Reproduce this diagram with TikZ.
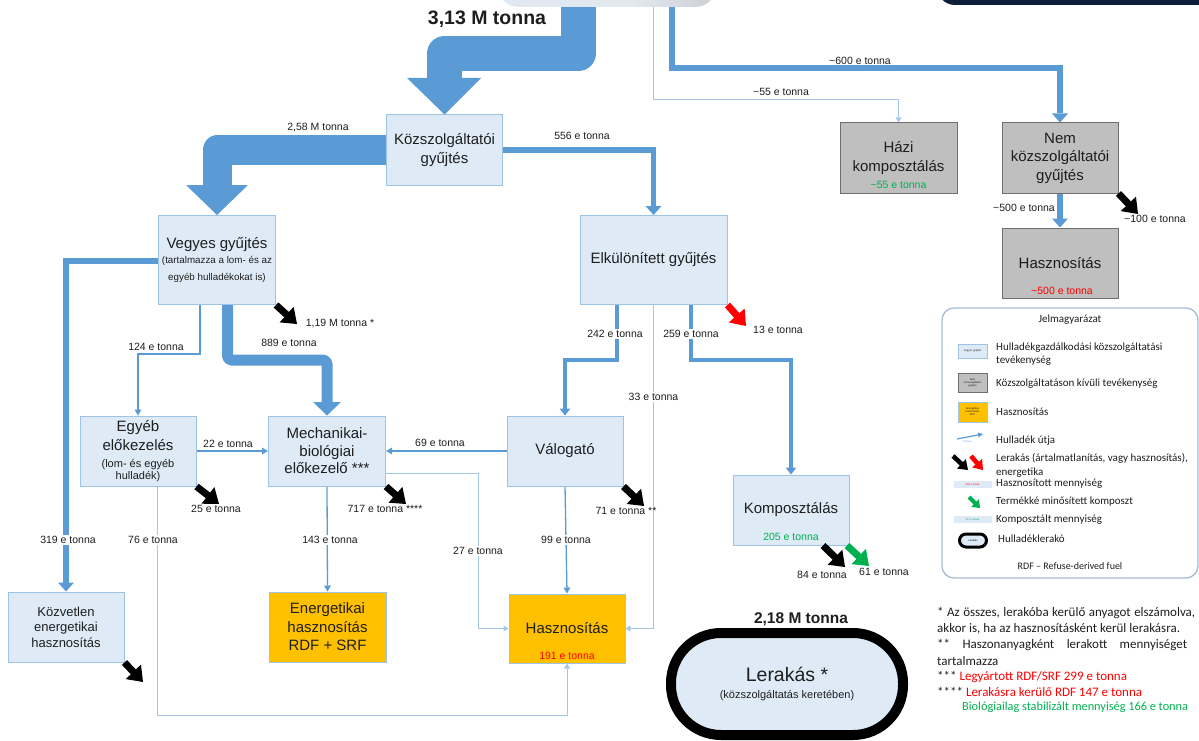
\documentclass[tikz,border=0pt]{standalone}
\usepackage{fontspec}
\setmainfont{Liberation Sans}
\newfontfamily\calibri{Carlito}
\usetikzlibrary{arrows.meta,calc}
\pgfdeclarelayer{bg}
\pgfsetlayers{bg,main}
\definecolor{bl}{HTML}{5B9BD5}
\definecolor{bll}{HTML}{A4C6E8}
\definecolor{boxf}{HTML}{DEEBF7}
\definecolor{boxd}{HTML}{9DC3E6}
\definecolor{grayf}{HTML}{BFBFBF}
\definecolor{grayd}{HTML}{6E6E6E}
\definecolor{orng}{HTML}{FFC000}
\definecolor{grn}{HTML}{00B050}
\definecolor{navy}{HTML}{0C1E3A}
\definecolor{legb}{HTML}{A7BBD3}
\definecolor{txt}{HTML}{1E1E1E}
\definecolor{topl}{HTML}{DCE6F2}
\definecolor{topm}{HTML}{E4E9F0}
\definecolor{topn}{HTML}{C6C9CD}
\definecolor{topg}{HTML}{8E8E8E}
\pgfdeclarehorizontalshading{topsh}{100bp}{color(0bp)=(topl); color(55bp)=(topm); color(80bp)=(topn); color(100bp)=(topg)}
\newcommand{\mainf}{\fontsize{15}{18.5}\selectfont}
\newcommand{\subf}{\fontsize{11}{13}\selectfont}
\newcommand{\kozvf}{\fontsize{13}{15.5}\selectfont}
\newcommand{\lblf}{\fontsize{10.5}{12}\selectfont}
\newcommand{\legf}{\calibri\fontsize{11}{13.2}\selectfont}
\newcommand{\tinyf}{\fontsize{2.6}{3}\selectfont}
\newcommand{\notef}{\calibri\fontsize{13}{15.7}\selectfont}
% block arrow: color, start, end, id, shaft half width, head half width, head length
\newcommand{\blkarr}[7]{%
  \coordinate (#4) at ($(#3)!#7!(#2)$);
  \fill[#1] ($(#2)!#5!90:(#3)$) -- ($(#4)!#5!90:(#3)$) -- ($(#4)!#6!90:(#3)$) -- (#3)
     -- ($(#4)!#6!-90:(#3)$) -- ($(#4)!#5!-90:(#3)$) -- ($(#2)!#5!-90:(#3)$) -- cycle;}
\tikzset{
  pbox/.style={draw=boxd, fill=boxf, line width=1pt, minimum width=116pt, minimum height=70pt,
    inner sep=0pt, align=center, font=\mainf, text=txt},
  gbox/.style={pbox, draw=grayd, fill=grayf},
  obox/.style={pbox, fill=orng},
  lbl/.style={font=\lblf, inner sep=1pt, text=txt},
  lblw/.style={lbl, fill=white},
  legtxt/.style={anchor=west, align=left, font=\legf, inner sep=0pt, text=txt},
  notetxt/.style={anchor=west, align=left, font=\notef, inner sep=0pt, text=txt},
  flowA/.style={draw=bl, line width=5.5pt, -{Triangle[length=9pt,width=16pt,line width=0pt]}},
  flowB/.style={draw=bl, line width=3.5pt, -{Triangle[length=7pt,width=11pt,line width=0pt]}},
  flowC/.style={draw=bl, line width=1.3pt, -{Triangle[length=6pt,width=7pt,line width=0pt]}},
  flowD/.style={draw=bll, line width=1pt, -{Triangle[length=5pt,width=6pt,line width=0pt]}},
  band/.style={draw=bl, line join=round}
}
\begin{document}
\begin{tikzpicture}[x=1pt,y=-1pt]
\useasboundingbox (0,0) rectangle (1199,741);

% top elements (cut off by the page edge)
\node[shade, shading=topsh, rounded corners=22pt, minimum width=220pt, minimum height=68pt, inner sep=0pt] (top) at (607,-27) {};
\fill[navy, rounded corners=18pt] (937,-40) -- (937,5) -- (1215,5) -- (1215,-40) -- cycle;
\node[font=\bfseries\fontsize{19.5}{22}\selectfont, text=txt, inner sep=0pt] (t313) at (487,19) {3,13 M tonna};

% boxes
\node[pbox] (kozsz) at (444.5,150) {Közszolgáltatói\\gyűjtés};
\node[pbox, minimum width=117pt, minimum height=89pt] (vegyes) at (217,260)
  {Vegyes gyűjtés\\[-3.5pt]{\fontsize{9.8}{12}\selectfont (tartalmazza a lom- és az}\\[-1.5pt]{\fontsize{9.8}{12}\selectfont egyéb hulladékokat is)}};
\node[pbox, minimum width=147pt, minimum height=89pt] (elk) at (653.5,260) {Elkülönített gyűjtés};
\node[gbox, minimum width=117pt] (hazi) at (898.5,158) {Házi\\komposztálás};
\node[gbox] (nem) at (1060,158) {Nem\\közszolgáltatói\\gyűjtés};
\node[gbox] (hasznG) at (1060,263) {Hasznosítás};
\node[pbox] (egyeb) at (138,451) {Egyéb\\előkezelés\\[-1.5pt]{\subf (lom- és egyéb}\\[-6.5pt]{\subf hulladék)}};
\node[pbox, minimum width=117pt] (mech) at (327,451) {Mechanikai-\\[-1pt]biológiai\\[-1pt]előkezelő ***};
\node[pbox] (valog) at (565,451) {Válogató};
\node[pbox] (komp) at (791,510) {Komposztálás};
\node[pbox, font=\kozvf] (kozv) at (66,627) {Közvetlen\\energetikai\\hasznosítás};
\node[obox, minimum width=117pt] (energ) at (327.5,627) {Energetikai\\hasznosítás\\RDF + SRF};
\node[obox, minimum height=69pt] (hasznO) at (567,628.5) {Hasznosítás};
\node[draw=black, line width=10pt, fill=boxf, rounded corners=50pt, minimum width=232pt, minimum height=102pt,
  inner sep=0pt, align=center, font=\fontsize{11}{17}\selectfont, text=txt] (lerak) at (787,684)
  {{\fontsize{19.5}{22}\selectfont Lerakás *}\\(közszolgáltatás keretében)};
\node[font=\bfseries\fontsize{15.5}{18}\selectfont, text=txt, inner sep=0pt] (t218) at (801,619) {2,18 M tonna};

% amounts inside boxes
\node[lbl, text=grn] (hazi55) at (898.5,185) {\textasciitilde 55 e tonna};
\node[lbl, text=red] (hg500) at (1062,291) {\textasciitilde 500 e tonna};
\node[lbl, text=red] (ho191) at (567,656) {191 e tonna};
\node[lbl, text=grn] (k205) at (791,537) {205 e tonna};

% connectors
\begin{pgfonlayer}{bg}
\draw[band, line width=35pt] ([xshift=-28.5pt]top.south) -- (578.5,53.5) -- (444.5,53.5) -- (444.5,79);
\fill[bl] (407,78) -- (481,78) -- (kozsz.north) -- cycle;
\draw[band, line width=29pt] (kozsz.west) -- (217,150) -- (217,186);
\fill[bl] (186,185) -- (248,185) -- (vegyes.north) -- cycle;
\draw[band, line width=11pt, rounded corners=4pt] ([xshift=10.5pt]vegyes.south) -- (227.5,360) -- (327,360) -- (327,403);
\fill[bl] (313,402) -- (341,402) -- (mech.north) -- cycle;
\draw[flowA] ([xshift=65pt]top.south) -- (672,68) -- (1060,68) -- (nem.north);
\draw[flowD] ([xshift=46pt]top.south) -- (653,100) -- (898.5,100) -- (hazi.north);
\draw[flowA] (kozsz.east) -- (653.5,150) -- (elk.north);
\draw[flowA] (nem.south) -- (hasznG.north);
\draw[flowA] ([yshift=-1pt]vegyes.west) -- (66,261) -- (kozv.north);
\draw[flowC] ([xshift=-17pt]vegyes.south) -- (200,354) -- (138,354) -- (egyeb.north);
\draw[flowB] ([xshift=-36.5pt]elk.south) -- (617,360) -- (565,360) -- (valog.north);
\draw[flowB] ([xshift=37.5pt]elk.south) -- (691,360) -- (791,360) -- (komp.north);
\draw[flowD] (elk.south) -- (653.5,628.5) -- (hasznO.east);
\draw[flowC] (egyeb.east) -- (mech.west);
\draw[flowC] (valog.west) -- (mech.east);
\draw[flowD] ([yshift=-22pt]mech.east) -- (478,473) -- (478,628.5) -- (hasznO.west);
\draw[flowC] (mech.south) -- (energ.north);
\draw[flowC] (valog.south) -- (hasznO.north);
\draw[flowD] ([xshift=19pt]egyeb.south) -- (157,715) -- (567,715) -- (hasznO.south);
\end{pgfonlayer}

% flow labels
\node[lbl] (l258) at (318,128) {2,58 M tonna};
\node[lbl] (l556) at (582,136) {556 e tonna};
\node[lbl] (l600) at (860,61) {\textasciitilde 600 e tonna};
\node[lbl] (l55) at (781,92) {\textasciitilde 55 e tonna};
\node[lbl] (l500) at (1024,208) {\textasciitilde 500 e tonna};
\node[lbl] (l100) at (1155,219) {\textasciitilde 100 e tonna};
\node[lbl] (l119) at (340,324) {1,19 M tonna *};
\node[lbl] (l889) at (289,343) {889 e tonna};
\node[lbl] (l124) at (156,347) {124 e tonna};
\node[lblw] (l242) at (615,334) {242 e tonna};
\node[lblw] (l259) at (691,334) {259 e tonna};
\node[lbl] (l13) at (778,330) {13 e tonna};
\node[lblw] (l33) at (653.5,397) {33 e tonna};
\node[lbl] (l22) at (228,444) {22 e tonna};
\node[lbl] (l69) at (440,443) {69 e tonna};
\node[lbl] (l25) at (216,509) {25 e tonna};
\node[lbl] (l717) at (385,509) {717 e tonna ****};
\node[lbl] (l71) at (626,511) {71 e tonna **};
\node[lblw] (l319) at (68,540) {319 e tonna};
\node[lblw] (l76) at (153,540) {76 e tonna};
\node[lblw] (l143) at (330,540) {143 e tonna};
\node[lblw] (l99) at (566,540) {99 e tonna};
\node[lblw] (l27) at (478,551) {27 e tonna};
\node[lbl] (l84) at (822,575) {84 e tonna};
\node[lbl] (l61) at (884,572) {61 e tonna};

% disposal / product arrows
\coordinate (e119) at (297,324);
\coordinate (e13) at (746,326);
\coordinate (e25) at (219,504);
\coordinate (e717) at (406,504);
\coordinate (e71) at (644,506);
\coordinate (s84) at ([xshift=32pt]komp.south);
\coordinate (e84) at (845,567);
\coordinate (s61) at ([xshift=56pt]komp.south);
\coordinate (e61) at (869,566);
\coordinate (ekozv) at (143,682);
\coordinate (e100) at (1138,214);
\blkarr{black}{vegyes.south east}{e119}{h119}{3.5pt}{10.5pt}{14pt}
\blkarr{red}{elk.south east}{e13}{h13}{3.5pt}{10.5pt}{14pt}
\blkarr{black}{egyeb.south east}{e25}{h25}{3.5pt}{10.5pt}{14pt}
\blkarr{black}{mech.south east}{e717}{h717}{3.5pt}{10.5pt}{14pt}
\blkarr{black}{valog.south east}{e71}{h71}{3.5pt}{10.5pt}{14pt}
\blkarr{black}{s84}{e84}{h84}{3.5pt}{10.5pt}{14pt}
\blkarr{grn}{s61}{e61}{h61}{3.5pt}{10.5pt}{14pt}
\blkarr{black}{kozv.south east}{ekozv}{hkozv}{3.5pt}{10.5pt}{14pt}
\blkarr{black}{nem.south east}{e100}{h100}{3.5pt}{10.5pt}{14pt}

% legend
\node[draw=legb, line width=1.3pt, fill=white, rounded corners=12pt, minimum width=256pt, minimum height=270pt] (leg) at (1070,443) {};
\node[font=\legf, text=txt, inner sep=0pt] (legt) at (1070,320) {Jelmagyarázat};
\node[pbox, minimum width=29pt, minimum height=14pt, font=\tinyf, line width=0.8pt] (ic1) at (972.5,351) {Vegyes gyűjtés};
\node[gbox, minimum width=29pt, minimum height=19pt, font=\tinyf, line width=0.8pt] (ic2) at (972.5,382.5) {Nem\\közszolgáltatói\\gyűjtés};
\node[obox, minimum width=29pt, minimum height=20pt, font=\tinyf, line width=0.6pt] (ic3) at (972.5,412) {Energetikai\\hasznosítás\\RDF};
\coordinate (ic4a) at (957,439);
\coordinate (ic4b) at (983,434);
\draw[draw=bl, line width=1.2pt, -{Triangle[length=5pt,width=5pt,line width=0pt]}] (ic4a) -- (ic4b);
\node[font=\tinyf, text=bl, inner sep=0pt] (ic4t) at (967,442) {Y tonna};
\coordinate (ic5a) at (953,456);
\coordinate (ic5b) at (968,470);
\coordinate (ic5c) at (971,456);
\coordinate (ic5d) at (983,470);
\blkarr{black}{ic5a}{ic5b}{h5b}{2.3pt}{6.5pt}{9pt}
\blkarr{red}{ic5c}{ic5d}{h5r}{2.3pt}{6.5pt}{9pt}
\node[fill=boxf, minimum width=38pt, minimum height=7pt, inner sep=0pt, font=\tinyf, text=red] (ic6) at (972.5,484.5) {200 e tonna};
\coordinate (ic7a) at (969,497);
\coordinate (ic7b) at (980,508);
\blkarr{grn}{ic7a}{ic7b}{h7}{2pt}{5.5pt}{7pt}
\node[fill=boxf, minimum width=38pt, minimum height=7pt, inner sep=0pt, font=\tinyf, text=grn] (ic8) at (972.5,519.5) {227 e tonna};
\node[draw=black, line width=3pt, fill=boxf, rounded corners=6.5pt, minimum width=27pt, minimum height=13pt, inner sep=0pt, font=\tinyf] (ic9) at (973,540.5) {Lerakás};
\node[legtxt] (lt1) at (996,354.5) {Hulladékgazdálkodási közszolgáltatási\\tevékenység};
\node[legtxt] (lt2) at (996,384) {Közszolgáltatáson kívüli tevékenység};
\node[legtxt] (lt3) at (996,412) {Hasznosítás};
\node[legtxt] (lt4) at (996,441) {Hulladék útja};
\node[legtxt] (lt5) at (996,465.5) {Lerakás (ártalmatlanítás, vagy hasznosítás),\\energetika};
\node[legtxt] (lt6) at (996,484) {Hasznosított mennyiség};
\node[legtxt] (lt7) at (996,502) {Termékké minősített komposzt};
\node[legtxt] (lt8) at (996,519.5) {Komposztált mennyiség};
\node[legtxt] (lt9) at (998,539) {Hulladéklerakó};
\node[font=\calibri\fontsize{10}{12}\selectfont, text=txt, inner sep=0pt] (lt10) at (1070,566) {RDF – Refuse-derived fuel};

% notes
\node[notetxt] (n1) at (937,613) {\makebox[258pt][s]{* Az összes, lerakóba kerülő anyagot elszámolva,}};
\node[notetxt] (n2) at (937,629) {akkor is, ha az hasznosításként kerül lerakásra.};
\node[notetxt] (n3) at (937,645) {\makebox[250pt][s]{** Haszonanyagként lerakott mennyiséget}};
\node[notetxt] (n4) at (937,661) {tartalmazza};
\node[notetxt] (n5) at (937,677) {*** \textcolor{red}{Legyártott RDF/SRF 299 e tonna}};
\node[notetxt] (n6) at (937,692) {**** \textcolor{red}{Lerakásra kerülő RDF 147 e tonna}};
\node[notetxt, font=\calibri\fontsize{12.3}{15}\selectfont] (n7) at (962,707) {\textcolor{grn}{Biológiailag stabilizált mennyiség 166 e tonna}};
\end{tikzpicture}
\end{document}
